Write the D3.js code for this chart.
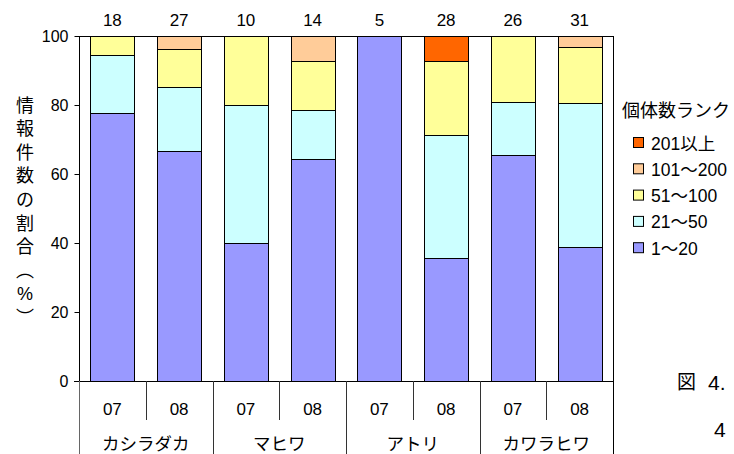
<!DOCTYPE html>
<html>
<head>
<meta charset="utf-8">
<script src="https://cdn.jsdelivr.net/npm/d3@7"></script>
<style>
  html, body { margin: 0; padding: 0; background: #fff; }
  svg { display: block; }
  text { font-family: "Liberation Sans", "Noto Sans CJK JP", sans-serif; fill: #000; }
</style>
</head>
<body>
<svg id="chart" width="734" height="454"></svg>
<script>
// Species and survey years (one bar per species/year)
const species = ["カシラダカ", "マヒワ", "アトリ", "カワラヒワ"];
const years = ["07", "08"];

// Abundance ranks, bottom of the stack first
const ranks = ["1～20", "21～50", "51～100", "101～200", "201以上"];
const rankColors = ["#9999FF", "#CCFFFF", "#FFFF99", "#FFCC99", "#FF6600"];

// Number of reports per rank for each bar (order: species × year)
const rank1to20    = [14, 18, 4, 9, 5, 10, 17, 12];
const rank21to50   = [ 3,  5, 4, 2, 0, 10,  4, 13];
const rank51to100  = [ 1,  3, 2, 2, 0,  6,  5,  5];
const rank101to200 = [ 0,  1, 0, 1, 0,  0,  0,  1];
const rank201plus  = [ 0,  0, 0, 0, 0,  2,  0,  0];

const yTicks = [0, 20, 40, 60, 80, 100];
const yTitle = ["情", "報", "件", "数", "の", "割", "合", "︵", "%", "︶"];

// Build one row per bar
const seriesCounts = [rank1to20, rank21to50, rank51to100, rank101to200, rank201plus];
const rows = [];
species.forEach((sp, si) => {
  years.forEach((yr, yi) => {
    const i = si * years.length + yi;
    const row = { key: sp + "-" + yr, species: sp, year: yr };
    let total = 0;
    ranks.forEach((r, ri) => { total += seriesCounts[ri][i]; });
    row.total = total;
    ranks.forEach((r, ri) => { row[r] = seriesCounts[ri][i] / total * 100; });
    rows.push(row);
  });
});

const svg = d3.select("#chart");
const plotL = 79, plotR = 613, plotT = 36, plotB = 381;

const x = d3.scaleBand()
  .domain(rows.map(d => d.key))
  .range([plotL, plotR])
  .paddingInner(0.34)
  .paddingOuter(0.17);

const y = d3.scaleLinear().domain([0, 100]).range([plotB, plotT]);
const color = d3.scaleOrdinal().domain(ranks).range(rankColors);

// Plot frame (top and right edges)
svg.append("line").attr("x1", plotL).attr("x2", plotR).attr("y1", plotT + 0.5).attr("y2", plotT + 0.5)
  .attr("stroke", "#000");
svg.append("line").attr("x1", plotR + 0.5).attr("x2", plotR + 0.5).attr("y1", plotT).attr("y2", 454)
  .attr("stroke", "#000");

// Stacked bars
const stacked = d3.stack().keys(ranks)(rows);
svg.append("g").selectAll("g")
  .data(stacked)
  .join("g")
  .attr("fill", d => color(d.key))
  .selectAll("rect")
  .data(d => d.filter(p => p[1] - p[0] > 0.001))
  .join("rect")
  .attr("x", d => Math.round(x(d.data.key)) + 0.5)
  .attr("y", d => Math.round(y(d[1])) + 0.5)
  .attr("width", Math.round(x.bandwidth()))
  .attr("height", d => Math.round(y(d[0])) - Math.round(y(d[1])))
  .attr("stroke", "#000")
  .attr("stroke-width", 1);

// Totals above each bar
svg.append("g").selectAll("text")
  .data(rows)
  .join("text")
  .attr("x", d => x(d.key) + x.bandwidth() / 2)
  .attr("y", 26)
  .attr("text-anchor", "middle")
  .attr("font-size", 17)
  .text(d => d.total);

// Y axis
const yAxis = d3.axisLeft(y).tickValues(yTicks).tickSize(5).tickPadding(6);
const gy = svg.append("g").attr("transform", `translate(${plotL + 0.5},0)`).call(yAxis);
gy.select(".domain").attr("stroke", "#000").attr("d", `M0,${plotT}V${plotB}`);
gy.selectAll(".tick line").attr("stroke", "#000");
gy.selectAll(".tick text").attr("font-size", 16).attr("fill", "#000")
  .attr("font-family", "Liberation Sans, sans-serif");

// Baseline
svg.append("line").attr("x1", plotL - 5).attr("x2", plotR).attr("y1", plotB + 0.5).attr("y2", plotB + 0.5)
  .attr("stroke", "#000");

// Category table below the axis
const step = x.step();
svg.append("line").attr("x1", plotL + 0.5).attr("x2", plotL + 0.5).attr("y1", plotB).attr("y2", 454)
  .attr("stroke", "#666");
rows.forEach((d, i) => {
  if (i === rows.length - 1) return;
  const xr = plotL + step * (i + 1);
  const isGroupEnd = (i % years.length) === years.length - 1;
  svg.append("line")
    .attr("x1", Math.round(xr) + 0.5).attr("x2", Math.round(xr) + 0.5)
    .attr("y1", plotB).attr("y2", isGroupEnd ? 454 : 420)
    .attr("stroke", "#333");
});

svg.append("g").selectAll("text")
  .data(rows)
  .join("text")
  .attr("x", d => x(d.key) + x.bandwidth() / 2)
  .attr("y", 415)
  .attr("text-anchor", "middle")
  .attr("font-size", 17)
  .text(d => d.year);

svg.append("g").selectAll("text")
  .data(species)
  .join("text")
  .attr("x", (d, i) => plotL + step * (i * years.length + years.length / 2))
  .attr("y", 450)
  .attr("text-anchor", "middle")
  .attr("font-size", 17.5)
  .attr("font-family", "Noto Sans CJK JP, sans-serif")
  .text(d => d);

// Y axis title, written vertically
svg.append("g").selectAll("text")
  .data(yTitle)
  .join("text")
  .attr("x", 25)
  .attr("y", (d, i) => 111.5 + i * 23.6)
  .attr("text-anchor", "middle")
  .attr("font-size", 18)
  .attr("font-family", "Noto Sans CJK JP, sans-serif")
  .text(d => d);

// Legend
const legend = svg.append("g");
legend.append("text")
  .attr("x", 622).attr("y", 116.5)
  .attr("font-size", 18)
  .attr("font-family", "Noto Sans CJK JP, sans-serif")
  .text("個体数ランク");
const legendOrder = ranks.slice().reverse();
const li = legend.selectAll("g.item")
  .data(legendOrder)
  .join("g")
  .attr("class", "item")
  .attr("transform", (d, i) => `translate(0,${143 + i * 26.3})`);
li.append("rect")
  .attr("x", 633.5).attr("y", -5.5)
  .attr("width", 10).attr("height", 10)
  .attr("fill", d => color(d))
  .attr("stroke", "#000");
li.append("text")
  .attr("x", 651).attr("y", 6.5)
  .attr("font-size", 17.5)
  .text(d => d);

// Figure caption fragments at the right edge
svg.append("text").attr("x", 677).attr("y", 389).attr("font-size", 19)
  .attr("font-family", "Noto Sans CJK JP, sans-serif").attr("fill", "#444").text("図");
svg.append("text").attr("x", 708).attr("y", 390).attr("font-size", 21)
  .attr("font-family", "Liberation Serif, serif").attr("fill", "#222").text("4.");
svg.append("text").attr("x", 714).attr("y", 437).attr("font-size", 21)
  .attr("font-family", "Liberation Serif, serif").attr("fill", "#222").text("4");
</script>
</body>
</html>
